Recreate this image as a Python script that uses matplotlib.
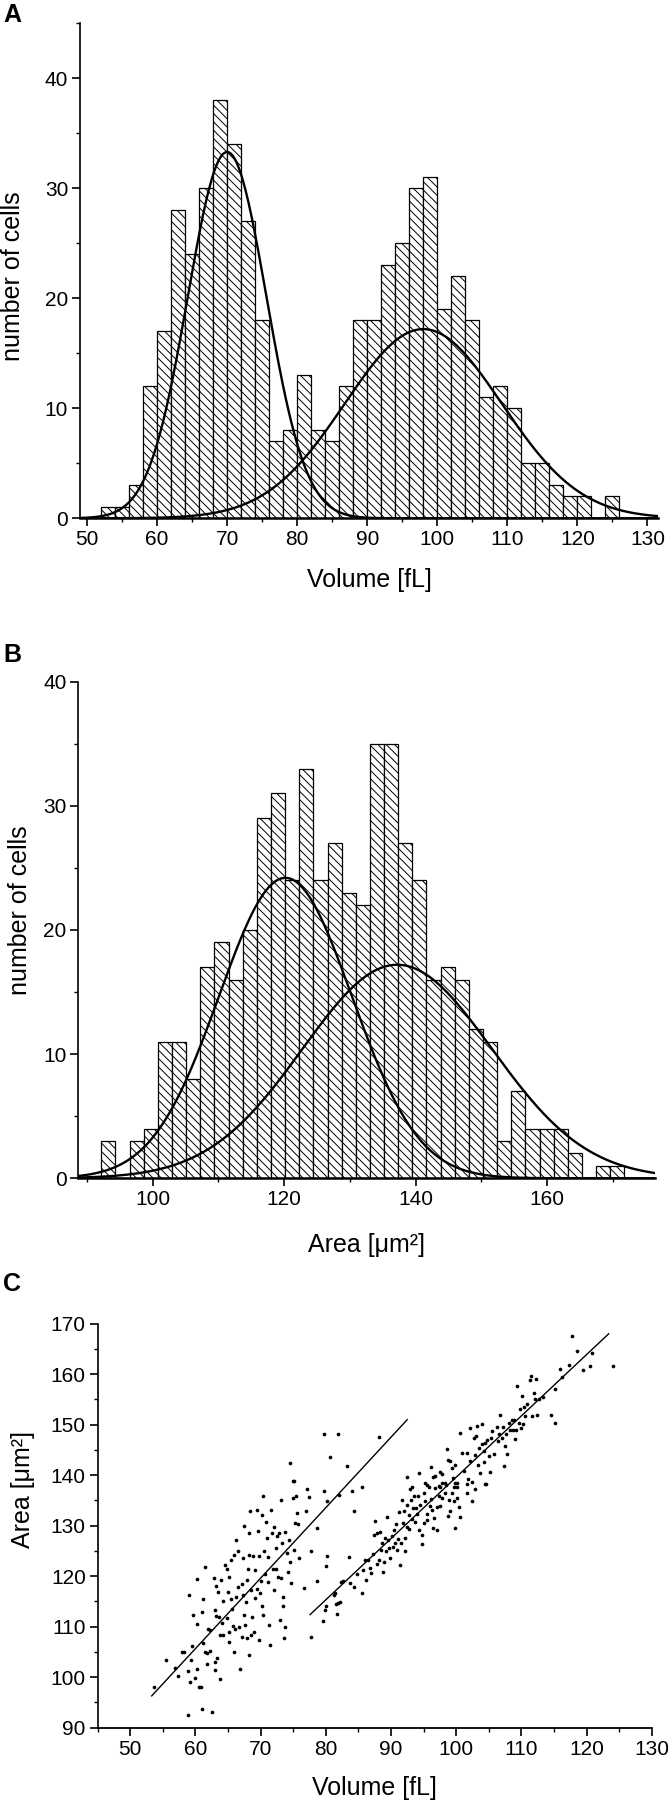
import numpy as np
import matplotlib
matplotlib.use("Agg")
import matplotlib.pyplot as plt
from matplotlib.ticker import MultipleLocator

plt.rcParams['font.family'] = ['Liberation Sans Narrow', 'Liberation Sans', 'DejaVu Sans']
plt.rcParams['hatch.linewidth'] = 0.7

# ---------------- Panel A: volume histogram ----------------
vol_bin_start = 52.0
vol_bin_width = 2.0
vol_counts = [1, 1, 3, 12, 17, 28, 24, 30, 38, 34, 27, 18, 7, 8, 13, 8, 7, 12, 18, 18,
              23, 25, 30, 31, 19, 22, 18, 11, 12, 10, 5, 5, 3, 2, 2, 0, 2]
vol_fit_amp = [33.3, 17.2]
vol_fit_mean = [70.0, 98.0]
vol_fit_sigma = [5.6, 11.2]

# ---------------- Panel B: area histogram ----------------
area_bin_start = 92.2
area_bin_width = 2.15
area_counts = [3, 0, 3, 4, 11, 11, 8, 17, 19, 16, 20, 29, 31, 24, 33, 24, 27, 23, 22, 35,
               35, 27, 24, 16, 17, 16, 12, 11, 3, 7, 4, 4, 4, 2, 0, 1, 1]
area_fit_amp = [24.2, 17.2]
area_fit_mean = [120.2, 137.2]
area_fit_sigma = [10.1, 14.4]

# ---------------- Panel C: scatter ----------------
sc_volume = [
    53.7, 55.5, 56.8, 57.4, 57.9, 58.3, 59.0, 58.9, 59.2, 58.9, 59.4, 59.5, 59.7, 60.0, 60.2,
    60.3, 60.2, 60.8, 60.5, 61.0, 61.2, 61.2, 61.4, 61.0, 61.5, 61.8, 61.8, 62.0, 62.2, 62.3,
    62.5, 62.8, 63.0, 63.0, 63.1, 63.1, 63.3, 63.0, 63.5, 63.6, 63.7, 63.8, 64.0, 64.1, 64.3,
    64.3, 64.6, 64.8, 64.8, 65.0, 65.1, 65.2, 65.2, 65.4, 65.4, 65.6, 65.8, 65.9, 66.0, 66.1,
    66.2, 66.3, 66.5, 66.6, 66.7, 66.9, 67.1, 67.1, 67.3, 67.3, 67.4, 67.5, 67.6, 67.7, 67.9,
    67.9, 68.1, 68.2, 68.3, 68.3, 68.4, 68.5, 68.6, 68.7, 68.9, 69.0, 69.1, 69.2, 69.4, 69.5,
    69.6, 69.7, 69.8, 69.9, 70.0, 70.2, 70.2, 70.4, 70.4, 70.6, 70.7, 70.8, 71.0, 71.2, 71.2,
    71.3, 71.5, 71.6, 71.7, 71.9, 72.0, 72.1, 72.3, 72.4, 72.5, 72.7, 72.8, 73.0, 73.1, 73.2,
    73.3, 73.4, 73.5, 73.6, 73.8, 73.8, 74.0, 74.2, 74.3, 74.5, 74.6, 74.9, 75.0, 75.2, 75.3,
    75.4, 75.6, 75.8, 75.9, 76.6, 76.9, 77.1, 77.4, 77.7, 77.8, 78.6, 78.7, 79.8, 80.2, 80.2,
    80.1, 82.1, 84.0, 84.4, 85.5, 74.5, 75.1, 79.8, 80.7, 81.9, 83.2, 88.1,
    79.6, 79.9, 80.0, 81.2, 81.4, 81.5, 81.7, 81.9, 82.2, 82.4, 82.7, 83.5, 83.7, 84.4, 84.8,
    85.5, 85.7, 86.0, 86.2, 86.5, 86.8, 87.0, 87.2, 87.4, 87.6, 87.8, 87.9, 88.1, 88.3, 88.4,
    88.6, 88.8, 89.0, 89.1, 89.3, 89.4, 89.6, 89.7, 89.9, 90.1, 90.3, 90.4, 90.6, 90.7, 90.9,
    91.1, 91.2, 91.4, 91.5, 91.7, 91.8, 92.0, 92.2, 92.2, 92.4, 92.5, 92.7, 92.8, 93.0, 93.2,
    93.2, 93.4, 93.5, 93.7, 93.8, 94.0, 94.2, 94.3, 94.5, 94.7, 94.8, 95.0, 95.1, 95.3, 95.5,
    95.6, 95.8, 96.0, 96.2, 96.3, 96.5, 96.6, 96.8, 97.0, 97.1, 97.3, 97.5, 97.6, 97.8, 97.9,
    98.3, 98.5, 98.8, 98.9, 99.1, 99.3, 99.6, 99.8, 99.9, 100.1, 100.2, 100.4, 100.6, 101.6, 101.7,
    102.5, 102.9, 104.4,
    92.5, 92.9, 94.3, 95.2, 95.6, 96.2, 96.4, 96.8, 97.3, 97.6, 97.9, 98.3, 98.6, 98.8, 99.1,
    99.3, 99.5, 99.6, 99.9, 100.1, 100.6, 100.9, 101.2, 101.6, 101.8, 102.1, 102.2, 102.4, 102.7, 102.9,
    103.0, 103.2, 103.3, 103.5, 103.7, 103.9, 104.0, 104.2, 104.3, 104.5, 104.6, 104.8, 105.0, 105.2, 105.4,
    105.5, 105.8, 106.2, 106.4, 106.5, 106.7, 107.0, 107.2, 107.3, 107.5, 107.6, 107.8, 108.1, 108.3, 108.5,
    108.7, 108.8, 109.1, 109.2, 109.4, 109.6, 109.8, 110.0, 110.1, 110.2, 110.4, 110.6, 110.9, 111.4, 111.5,
    111.7, 111.9, 112.1, 112.3, 112.4, 112.7, 113.3, 114.6, 115.2, 115.2, 115.9, 116.3, 117.3, 117.8, 118.6,
    119.4, 120.6, 120.9, 124.1,
]
sc_area = [
    98.0, 103.4, 101.9, 100.2, 104.9, 104.9, 116.2, 101.3, 99.0, 92.5, 103.4, 106.2, 112.4, 99.8, 119.4,
    110.5, 101.7, 98.0, 98.1, 113.0, 115.5, 106.7, 104.9, 93.8, 121.9, 104.7, 102.7, 109.5, 105.2, 109.4,
    93.2, 119.7, 103.1, 113.3, 118.1, 112.1, 103.9, 101.4, 116.8, 112.0, 99.6, 108.3, 119.2, 110.7, 108.3,
    115.1, 122.3, 121.5, 111.7, 116.9, 109.0, 119.8, 107.0, 115.4, 123.3, 113.6, 110.2, 105.0, 124.2, 109.5,
    115.8, 127.2, 117.9, 124.9, 110.0, 101.6, 118.5, 108.0, 116.3, 123.7, 112.4, 130.0, 110.3, 114.8, 107.8,
    119.2, 121.4, 128.5, 104.4, 124.2, 133.0, 108.4, 117.3, 112.0, 124.0, 109.0, 115.6, 121.2, 117.5, 133.1,
    128.9, 107.4, 124.0, 116.7, 119.1, 114.1, 132.1, 112.3, 135.9, 124.9, 120.4, 130.7, 127.5, 118.9, 123.9,
    110.3, 106.4, 133.2, 128.5, 121.5, 117.3, 129.8, 125.5, 121.5, 127.9, 119.8, 128.5, 111.3, 135.0, 119.6,
    126.5, 114.1, 115.9, 107.7, 128.8, 110.0, 124.5, 120.9, 127.2, 122.9, 118.6, 138.9, 135.4, 125.2, 130.5,
    135.9, 132.6, 130.4, 123.7, 117.7, 132.9, 137.3, 135.7, 124.9, 108.0, 129.6, 119.0, 136.9, 134.9, 124.0,
    122.0, 136.1, 136.9, 132.9, 137.7, 142.4, 138.8, 148.2, 143.6, 148.2, 141.8, 147.5,
    111.1, 113.3, 114.1, 116.3, 116.6, 114.5, 112.5, 114.6, 114.8, 118.9, 119.0, 123.9, 118.6, 117.9, 120.4,
    116.7, 121.2, 123.2, 119.2, 123.2, 121.7, 120.7, 124.4, 128.2, 130.9, 128.6, 122.5, 123.3, 128.8, 125.2,
    126.6, 120.9, 122.9, 127.5, 124.9, 131.7, 127.1, 125.5, 123.7, 127.9, 125.8, 129.1, 126.6, 130.3, 125.2,
    127.3, 132.8, 122.2, 126.5, 135.1, 130.6, 133.0, 127.6, 124.9, 129.8, 134.1, 132.1, 129.3, 135.1, 137.7,
    131.3, 133.6, 135.9, 130.8, 133.6, 132.4, 135.9, 129.1, 134.1, 128.2, 126.3, 136.5, 130.6, 134.9, 132.4,
    131.1, 137.6, 133.9, 135.2, 133.1, 129.5, 131.6, 137.4, 133.7, 129.1, 135.9, 133.9, 137.7, 135.5, 138.5,
    136.5, 138.1, 131.9, 135.1, 132.9, 136.4, 134.8, 138.4, 129.6, 135.4, 137.7, 133.8, 131.8, 136.4, 138.3,
    134.9, 137.3, 138.3,
    139.7, 137.3, 140.5, 138.5, 138.1, 141.6, 139.6, 139.8, 137.8, 140.6, 140.3, 138.5, 145.2, 143.1, 142.9,
    141.4, 139.5, 137.6, 142.1, 138.5, 148.4, 144.4, 140.8, 144.4, 139.3, 149.4, 142.9, 138.7, 147.4, 144.0,
    147.7, 149.8, 142.1, 145.4, 140.5, 146.1, 150.2, 144.8, 142.6, 146.4, 138.3, 146.9, 143.8, 140.7, 147.4,
    148.7, 144.1, 149.5, 146.7, 148.1, 151.9, 147.4, 149.5, 141.8, 145.7, 148.1, 144.2, 150.4, 149.0, 151.0,
    149.0, 151.0, 147.1, 149.0, 157.6, 150.4, 153.2, 149.4, 155.7, 150.2, 153.5, 151.7, 154.0, 158.8, 159.6,
    151.7, 156.3, 155.0, 159.0, 151.9, 155.1, 155.5, 152.0, 150.4, 157.0, 161.1, 159.4, 161.8, 167.6, 164.6,
    160.9, 161.6, 164.1, 161.6,
]
fit1_volume = [53.3, 92.5]
fit1_area = [96.3, 151.0]
fit2_volume = [77.6, 123.4]
fit2_area = [112.4, 168.0]

HATCH = '\\\\\\\\'
TICK_FS = 15
LABEL_FS = 18


def gauss(x, a, m, s):
    return a * np.exp(-(x - m) ** 2 / (2 * s ** 2))


def style_axes(ax, bottom_lw=1.8):
    ax.spines['top'].set_visible(False)
    ax.spines['right'].set_visible(False)
    ax.spines['left'].set_linewidth(1.2)
    ax.spines['bottom'].set_linewidth(bottom_lw)
    ax.tick_params(which='major', direction='out', length=5.5, width=1.2, labelsize=TICK_FS, pad=3)
    ax.tick_params(which='minor', direction='out', length=3, width=1.0)


fig = plt.figure(figsize=(6.71, 18.0), dpi=100)

# Panel A
axA = fig.add_axes([80 / 671, 1 - 518.3 / 1800, 578 / 671, 495 / 1800])
edges = vol_bin_start + vol_bin_width * np.arange(len(vol_counts))
axA.bar(edges, vol_counts, width=vol_bin_width, align='edge', facecolor='white',
        edgecolor='black', linewidth=0.9, hatch=HATCH, zorder=2)
axA.set_xlim(49, 131.5)
axA.set_ylim(0, 45)
xs = np.linspace(49, 131.5, 400)
for a, m, s in zip(vol_fit_amp, vol_fit_mean, vol_fit_sigma):
    axA.plot(xs, gauss(xs, a, m, s), color='black', lw=1.7, zorder=3)
axA.xaxis.set_major_locator(MultipleLocator(10))
axA.xaxis.set_minor_locator(MultipleLocator(5))
axA.yaxis.set_major_locator(MultipleLocator(10))
axA.yaxis.set_minor_locator(MultipleLocator(5))
style_axes(axA)
axA.set_xlabel('Volume [fL]', fontsize=LABEL_FS)
axA.set_ylabel('number of cells', fontsize=LABEL_FS)
axA.xaxis.set_label_coords(0.5, -0.1)
axA.yaxis.set_label_coords(-0.095, 0.49)

# Panel B
axB = fig.add_axes([78.3 / 671, 1 - 1178.3 / 1800, 576.7 / 671, 496.6 / 1800])
edgesB = area_bin_start + area_bin_width * np.arange(len(area_counts))
axB.bar(edgesB, area_counts, width=area_bin_width, align='edge', facecolor='white',
        edgecolor='black', linewidth=0.9, hatch=HATCH, zorder=2)
axB.set_xlim(88.7, 176.4)
axB.set_ylim(0, 40)
xs = np.linspace(88.7, 176.4, 400)
for a, m, s in zip(area_fit_amp, area_fit_mean, area_fit_sigma):
    axB.plot(xs, gauss(xs, a, m, s), color='black', lw=1.7, zorder=3)
axB.xaxis.set_major_locator(MultipleLocator(20))
axB.xaxis.set_minor_locator(MultipleLocator(10))
axB.yaxis.set_major_locator(MultipleLocator(10))
axB.yaxis.set_minor_locator(MultipleLocator(5))
style_axes(axB)
axB.set_xlabel('Area [\u03bcm\u00b2]', fontsize=LABEL_FS)
axB.set_ylabel('number of cells', fontsize=LABEL_FS)
axB.xaxis.set_label_coords(0.5, -0.11)
axB.yaxis.set_label_coords(-0.08, 0.54)

# Panel C
axC = fig.add_axes([97.6 / 671, 1 - 1727.7 / 1800, 554.1 / 671, 404 / 1800])
axC.scatter(sc_volume, sc_area, s=7, color='black', linewidths=0, zorder=2)
axC.plot(fit1_volume, fit1_area, color='black', lw=1.0, zorder=3)
axC.plot(fit2_volume, fit2_area, color='black', lw=1.0, zorder=3)
axC.set_xlim(45, 130)
axC.set_ylim(90, 170)
axC.xaxis.set_major_locator(MultipleLocator(10))
axC.xaxis.set_minor_locator(MultipleLocator(5))
axC.yaxis.set_major_locator(MultipleLocator(10))
axC.yaxis.set_minor_locator(MultipleLocator(5))
style_axes(axC, bottom_lw=1.3)
axC.set_xlabel('Volume [fL]', fontsize=LABEL_FS)
axC.set_ylabel('Area [\u03bcm\u00b2]', fontsize=LABEL_FS)
axC.xaxis.set_label_coords(0.5, -0.12)
axC.yaxis.set_label_coords(-0.113, 0.59)

# Panel letters
for letter, ytop in (('A', 3), ('B', 643), ('C', 1272)):
    fig.text(3.5 / 671, 1 - ytop / 1800, letter, fontsize=18, fontweight='bold',
             ha='left', va='top', family=['Liberation Sans', 'DejaVu Sans'])

fig.savefig('out.png', dpi=100)
